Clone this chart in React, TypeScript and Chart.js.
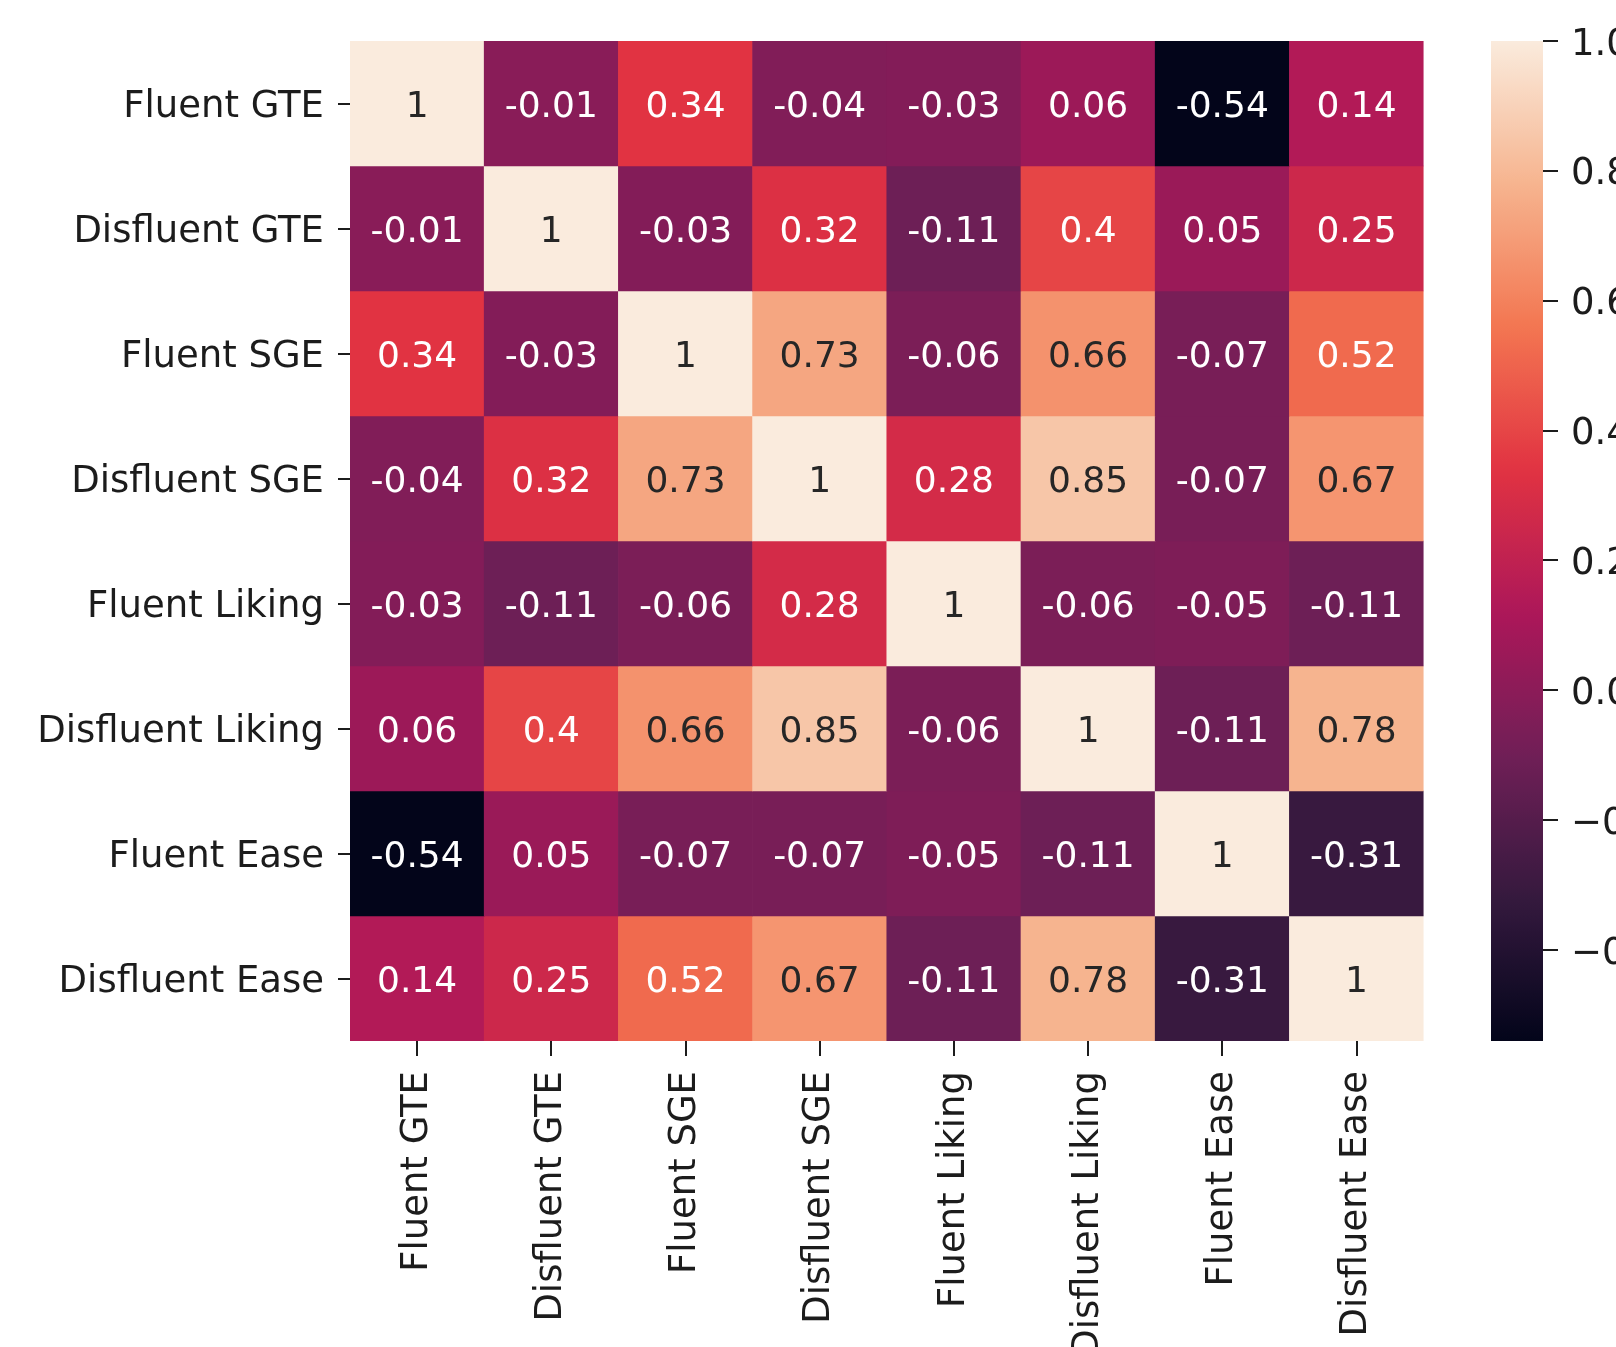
import React, { useEffect, useRef } from "react";
import { Chart, registerables } from "chart.js";

Chart.register(...registerables);

// ---- data ----
const categories = [
  "Fluent GTE",
  "Disfluent GTE",
  "Fluent SGE",
  "Disfluent SGE",
  "Fluent Liking",
  "Disfluent Liking",
  "Fluent Ease",
  "Disfluent Ease",
];

const rowFluentGTE = [1, -0.01, 0.34, -0.04, -0.03, 0.06, -0.54, 0.14];
const rowDisfluentGTE = [-0.01, 1, -0.03, 0.32, -0.11, 0.4, 0.05, 0.25];
const rowFluentSGE = [0.34, -0.03, 1, 0.73, -0.06, 0.66, -0.07, 0.52];
const rowDisfluentSGE = [-0.04, 0.32, 0.73, 1, 0.28, 0.85, -0.07, 0.67];
const rowFluentLiking = [-0.03, -0.11, -0.06, 0.28, 1, -0.06, -0.05, -0.11];
const rowDisfluentLiking = [0.06, 0.4, 0.66, 0.85, -0.06, 1, -0.11, 0.78];
const rowFluentEase = [-0.54, 0.05, -0.07, -0.07, -0.05, -0.11, 1, -0.31];
const rowDisfluentEase = [0.14, 0.25, 0.52, 0.67, -0.11, 0.78, -0.31, 1];

const matrix = [
  rowFluentGTE,
  rowDisfluentGTE,
  rowFluentSGE,
  rowDisfluentSGE,
  rowFluentLiking,
  rowDisfluentLiking,
  rowFluentEase,
  rowDisfluentEase,
];

const colorbarTicks = [1.0, 0.8, 0.6, 0.4, 0.2, 0.0, -0.2, -0.4];

// seaborn "rocket" colormap key colours
const rocketStops: [number, string][] = [
  [0 / 7, "#03051a"],
  [1 / 7, "#35193e"],
  [2 / 7, "#701f57"],
  [3 / 7, "#ad1759"],
  [4 / 7, "#e13342"],
  [5 / 7, "#f37651"],
  [6 / 7, "#f6b48f"],
  [7 / 7, "#faebdd"],
];

const FONT = '"DejaVu Sans", "Liberation Sans", sans-serif';
const TEXT_DARK = "#1c1c1c";

const allValues = matrix.flat();
const vmin = Math.min(...allValues);
const vmax = Math.max(...allValues);

function hexToRgb(h: string): number[] {
  const n = parseInt(h.slice(1), 16);
  return [(n >> 16) & 255, (n >> 8) & 255, n & 255];
}

function cmapRgb(t: number): number[] {
  const tt = Math.max(0, Math.min(1, t));
  for (let i = 0; i < rocketStops.length - 1; i++) {
    const [t0, c0] = rocketStops[i];
    const [t1, c1] = rocketStops[i + 1];
    if (tt >= t0 && tt <= t1) {
      const f = (tt - t0) / (t1 - t0);
      const a = hexToRgb(c0);
      const b = hexToRgb(c1);
      return a.map((v, k) => Math.round(v + (b[k] - v) * f));
    }
  }
  return hexToRgb(rocketStops[rocketStops.length - 1][1]);
}

function rgbStr(c: number[]): string {
  return `rgb(${c[0]},${c[1]},${c[2]})`;
}

function valueColor(v: number): string {
  return rgbStr(cmapRgb((v - vmin) / (vmax - vmin)));
}

function luminance(c: number[]): number {
  const lin = c.map((x) => {
    const s = x / 255;
    return s <= 0.03928 ? s / 12.92 : Math.pow((s + 0.055) / 1.055, 2.4);
  });
  return 0.2126 * lin[0] + 0.7152 * lin[1] + 0.0722 * lin[2];
}

function annotColor(v: number): string {
  const c = cmapRgb((v - vmin) / (vmax - vmin));
  return luminance(c) > 0.36 ? "#262626" : "#ffffff";
}

function fmt2g(v: number): string {
  return String(Number(v.toPrecision(2)));
}

const annotPlugin = {
  id: "annot",
  afterDatasetsDraw(chart: any) {
    const ctx = chart.ctx;
    const size = 36;
    ctx.save();
    ctx.font = `${size}px ${FONT}`;
    ctx.textAlign = "center";
    ctx.textBaseline = "alphabetic";
    chart.data.datasets.forEach((_ds: any, r: number) => {
      const meta = chart.getDatasetMeta(r);
      meta.data.forEach((el: any, c: number) => {
        const v = matrix[r][c];
        const p = el.getProps(["x", "y", "base"], true);
        const cy = (p.y + p.base) / 2;
        ctx.fillStyle = annotColor(v);
        ctx.fillText(fmt2g(v), p.x, cy + 0.3645 * size);
      });
    });
    ctx.restore();
  },
};

export default function App() {
  const heatRef = useRef<HTMLCanvasElement | null>(null);
  const cbarRef = useRef<HTMLCanvasElement | null>(null);

  useEffect(() => {
    if (!heatRef.current || !cbarRef.current) return;

    const heat = new Chart(heatRef.current, {
      type: "bar",
      data: {
        labels: categories,
        datasets: matrix.map((row, r) => ({
          label: categories[r],
          data: row.map(() => [r, r + 1]),
          backgroundColor: row.map((v) => valueColor(v)),
          borderWidth: 0,
          barPercentage: 1,
          categoryPercentage: 1,
          grouped: false,
        })),
      } as any,
      options: {
        animation: false,
        responsive: false,
        maintainAspectRatio: false,
        layout: { padding: { top: 41, left: 0, right: 16.4, bottom: 0 } },
        plugins: { legend: { display: false }, tooltip: { enabled: false } },
        scales: {
          x: {
            type: "category",
            offset: true,
            grid: {
              offset: false,
              drawOnChartArea: false,
              drawTicks: true,
              tickLength: 15,
              color: TEXT_DARK,
              lineWidth: 2,
            },
            border: { display: false },
            ticks: {
              autoSkip: false,
              minRotation: 90,
              maxRotation: 90,
              padding: 15,
              color: TEXT_DARK,
              font: { family: FONT, size: 37 },
            },
            afterFit: (s: any) => {
              s.height = 306;
              s.paddingLeft = 0;
              s.paddingRight = 0;
              s.paddingTop = 0;
              s.paddingBottom = 0;
            },
          },
          y: {
            type: "linear",
            min: 0,
            max: categories.length,
            reverse: true,
            afterBuildTicks: (s: any) => {
              s.ticks = categories.map((_c, i) => ({ value: i + 0.5 }));
            },
            ticks: {
              autoSkip: false,
              padding: 14,
              labelOffset: 4,
              color: TEXT_DARK,
              font: { family: FONT, size: 37 },
              callback: (_v: any, i: number) => categories[i],
            },
            grid: {
              drawOnChartArea: false,
              drawTicks: true,
              tickLength: 12,
              color: TEXT_DARK,
              lineWidth: 2,
            },
            border: { display: false },
            afterFit: (s: any) => {
              s.width = 350;
              s.paddingLeft = 0;
              s.paddingRight = 0;
              s.paddingTop = 0;
              s.paddingBottom = 0;
            },
          },
        },
      } as any,
      plugins: [annotPlugin],
    });

    const cbar = new Chart(cbarRef.current, {
      type: "bar",
      data: {
        labels: ["colorbar"],
        datasets: [
          {
            data: [[vmin, vmax]],
            borderWidth: 0,
            barPercentage: 1,
            categoryPercentage: 1,
            backgroundColor: (context: any) => {
              const ch = context.chart;
              const area = ch.chartArea;
              if (!area) return valueColor(vmax);
              const ys = ch.scales.y;
              const y0 = ys.getPixelForValue(vmin);
              const y1 = ys.getPixelForValue(vmax);
              const g = ch.ctx.createLinearGradient(0, y0, 0, y1);
              const n = 64;
              for (let i = 0; i <= n; i++) {
                g.addColorStop(i / n, rgbStr(cmapRgb(i / n)));
              }
              return g;
            },
          },
        ],
      } as any,
      options: {
        animation: false,
        responsive: false,
        maintainAspectRatio: false,
        layout: { padding: { top: 41, bottom: 306, left: 0, right: 0 } },
        plugins: { legend: { display: false }, tooltip: { enabled: false } },
        scales: {
          x: { display: false },
          y: {
            type: "linear",
            position: "right",
            min: vmin,
            max: vmax,
            afterBuildTicks: (s: any) => {
              s.ticks = colorbarTicks.map((v) => ({ value: v }));
            },
            ticks: {
              autoSkip: false,
              padding: 13,
              labelOffset: 4,
              color: TEXT_DARK,
              font: { family: FONT, size: 37 },
              callback: (v: any) => Number(v).toFixed(1).replace("-", "\u2212"),
            },
            grid: {
              drawOnChartArea: false,
              drawTicks: true,
              tickLength: 15,
              color: TEXT_DARK,
              lineWidth: 2,
            },
            border: { display: false },
            afterFit: (s: any) => {
              s.width = 200;
              s.paddingTop = 0;
              s.paddingBottom = 0;
              s.paddingLeft = 0;
              s.paddingRight = 0;
            },
          },
        },
      } as any,
    });

    return () => {
      heat.destroy();
      cbar.destroy();
    };
  }, []);

  return (
    <div
      style={{
        position: "absolute",
        left: 0,
        top: 0,
        width: 1616,
        height: 1347,
        overflow: "hidden",
        background: "#ffffff",
      }}
    >
      <canvas
        ref={heatRef}
        width={1440}
        height={1347}
        style={{ position: "absolute", left: 0, top: 0, width: 1440, height: 1347 }}
      />
      <canvas
        ref={cbarRef}
        width={252}
        height={1347}
        style={{ position: "absolute", left: 1491, top: 0, width: 252, height: 1347 }}
      />
    </div>
  );
}
